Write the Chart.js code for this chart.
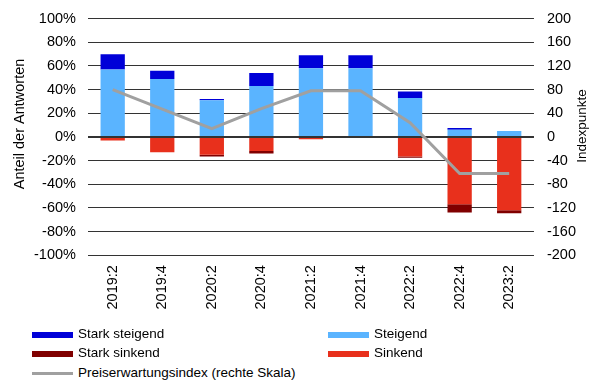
<!DOCTYPE html>
<html>
<head>
<meta charset="utf-8">
<script src="https://cdn.jsdelivr.net/npm/chart.js@4/dist/chart.umd.min.js"></script>
<style>
  body { margin: 0; background: #fff; }
  #wrap { position: relative; width: 598px; height: 380px; overflow: hidden; font-family: "Liberation Sans", Arial, sans-serif; }
  #chart { position: absolute; left: 0; top: -3px; }
  .lg { position: absolute; font-size: 13.5px; color: #000; line-height: 16px; white-space: nowrap; }
  .lg i { position: absolute; left: -46px; width: 41px; }
</style>
</head>
<body>
<div id="wrap">
  <canvas id="chart" width="598" height="330"></canvas>
  <div id="legend"></div>
</div>
<script>
var quarters = ["2019:2", "2019:4", "2020:2", "2020:4", "2021:2", "2021:4", "2022:2", "2022:4", "2023:2"];
var steigend = [57, 49, 31, 43, 58, 58, 33, 6, 5];
var starkSteigend = [13, 7, 1, 11, 11, 11, 5.5, 1.5, 0];
var sinkend = [-3, -13, -15, -12, -2, -1, -16.5, -57, -62];
var starkSinkend = [0, 0, -1.5, -2, 0, 0, -1.2, -7, -2.5];
var preisIndex = [80, 47, 14, 48, 78, 78, 24, -62, -62];
var leftTicks = [-100, -80, -60, -40, -20, 0, 20, 40, 60, 80, 100];
var rightTicks = [-200, -160, -120, -80, -40, 0, 40, 80, 120, 160, 200];

var FONT = '"Liberation Sans", Arial, sans-serif';
var FS = 14.5;

// canvas sits 3px higher than the page, titles are placed in canvas coordinates
var titlePlugin = {
    id: 'axisTitles',
    afterDraw: function (chart) {
        var ctx = chart.ctx;
        ctx.save();
        ctx.font = FS + 'px ' + FONT;
        ctx.fillStyle = '#000';
        ctx.textAlign = 'center';
        ctx.textBaseline = 'middle';
        ctx.translate(20, 127);
        ctx.rotate(-Math.PI / 2);
        ctx.fillText('Anteil der Antworten', 0, 0);
        ctx.restore();
        ctx.save();
        ctx.font = '13.5px ' + FONT;
        ctx.fillStyle = '#000';
        ctx.textAlign = 'center';
        ctx.textBaseline = 'middle';
        ctx.translate(582, 129);
        ctx.rotate(-Math.PI / 2);
        ctx.fillText('Indexpunkte', 0, 0);
        ctx.restore();
    }
};

var ctx = document.getElementById('chart');
var chart = new Chart(ctx, {
    type: 'bar',
    data: {
        labels: quarters,
        datasets: [
            { type: 'line', label: 'Preiserwartungsindex (rechte Skala)', data: preisIndex, yAxisID: 'y1',
              borderColor: '#a0a0a0', backgroundColor: '#a0a0a0', borderWidth: 3, pointRadius: 0, tension: 0, order: 0 },
            { label: 'Steigend', data: steigend, backgroundColor: '#5ab4ff', order: 1 },
            { label: 'Stark steigend', data: starkSteigend, backgroundColor: '#0000d8', order: 1 },
            { label: 'Sinkend', data: sinkend, backgroundColor: '#e8301c', order: 1 },
            { label: 'Stark sinkend', data: starkSinkend, backgroundColor: '#800000', order: 1 }
        ]
    },
    options: {
        responsive: false,
        animation: false,
        layout: { padding: { left: 22, right: 9, top: 5, bottom: 7.5 } },
        datasets: { bar: { categoryPercentage: 1, barPercentage: 0.49, borderWidth: 0 } },
        plugins: { legend: { display: false }, tooltip: { enabled: false } },
        scales: {
            x: {
                stacked: true,
                grid: { display: false, drawTicks: false },
                border: { display: false },
                ticks: { color: '#000', font: { family: FONT, size: FS }, minRotation: 90, maxRotation: 90, padding: 10 }
            },
            y: {
                stacked: true,
                position: 'left',
                min: -100, max: 100,
                afterBuildTicks: function (s) { s.ticks = leftTicks.map(function (v) { return { value: v }; }); },
                grid: {
                    drawTicks: false,
                    color: '#333',
                    lineWidth: function (c) { return c.tick && c.tick.value === 0 ? 2 : 1; }
                },
                border: { display: false },
                ticks: { color: '#000', padding: 12, font: { family: FONT, size: FS },
                         callback: function (v) { return v + '%'; } }
            },
            y1: {
                position: 'right',
                min: -200, max: 200,
                afterBuildTicks: function (s) { s.ticks = rightTicks.map(function (v) { return { value: v }; }); },
                grid: { display: false, drawTicks: false },
                border: { display: false },
                ticks: { color: '#000', padding: 13, font: { family: FONT, size: FS } }
            }
        }
    },
    plugins: [titlePlugin]
});

// legend in two columns, built from the datasets
var legendSpots = {
    'Stark steigend': [78, 326],
    'Steigend': [374, 326],
    'Stark sinkend': [78, 345],
    'Sinkend': [374, 345],
    'Preiserwartungsindex (rechte Skala)': [78, 365]
};
var lg = document.getElementById('legend');
chart.data.datasets.forEach(function (ds) {
    var p = legendSpots[ds.label];
    var d = document.createElement('div');
    d.className = 'lg';
    d.style.left = p[0] + 'px';
    d.style.top = p[1] + 'px';
    var sw = document.createElement('i');
    var isLine = ds.type === 'line';
    sw.style.height = isLine ? '3px' : '6px';
    sw.style.top = isLine ? '7px' : '5.5px';
    sw.style.background = isLine ? ds.borderColor : ds.backgroundColor;
    d.appendChild(sw);
    d.appendChild(document.createTextNode(ds.label));
    lg.appendChild(d);
});
</script>
</body>
</html>
